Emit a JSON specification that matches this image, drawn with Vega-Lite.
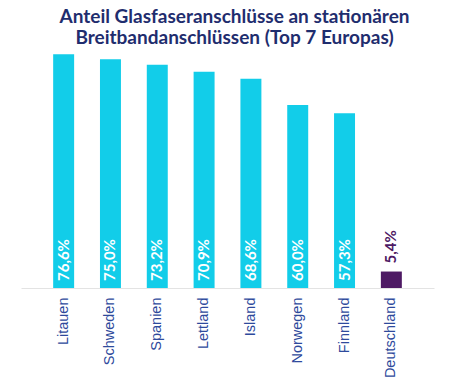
{
  "$schema": "https://vega.github.io/schema/vega-lite/v6.json",
  "width": 413,
  "height": 244,
  "autosize": {"type": "none"},
  "padding": {"left": 21, "top": 44, "right": 16, "bottom": 100},
  "background": "#ffffff",
  "title": {
    "text": ["Anteil Glasfaseranschlüsse an stationären", "Breitbandanschlüssen (Top 7 Europas)"],
    "font": "Lato",
    "fontSize": 19,
    "fontWeight": "bold",
    "color": "#1F2D6E",
    "lineHeight": 21,
    "anchor": "middle",
    "dx": 7,
    "offset": -4
  },
  "data": {
    "values": [
      {"land": "Litauen", "anteil": 76.6, "label": "76,6%", "gruppe": "top"},
      {"land": "Schweden", "anteil": 75.0, "label": "75,0%", "gruppe": "top"},
      {"land": "Spanien", "anteil": 73.2, "label": "73,2%", "gruppe": "top"},
      {"land": "Lettland", "anteil": 70.9, "label": "70,9%", "gruppe": "top"},
      {"land": "Island", "anteil": 68.6, "label": "68,6%", "gruppe": "top"},
      {"land": "Norwegen", "anteil": 60.0, "label": "60,0%", "gruppe": "top"},
      {"land": "Finnland", "anteil": 57.3, "label": "57,3%", "gruppe": "top"},
      {"land": "Deutschland", "anteil": 5.4, "label": "5,4%", "gruppe": "de"}
    ]
  },
  "encoding": {
    "x": {
      "field": "land",
      "type": "nominal",
      "sort": null,
      "scale": {"paddingInner": 0.552, "paddingOuter": 0.687},
      "axis": {
        "title": null,
        "labelAngle": -90,
        "labelAlign": "right",
        "labelBaseline": "middle",
        "labelFont": "Liberation Sans",
        "labelFontSize": 14.5,
        "labelColor": "#2E4A9C",
        "labelPadding": 9,
        "ticks": false,
        "domainColor": "#E3E3E3",
        "domainWidth": 1
      }
    },
    "y": {
      "field": "anteil",
      "type": "quantitative",
      "scale": {"domain": [0, 80], "nice": false},
      "axis": null
    }
  },
  "layer": [
    {
      "mark": {"type": "bar"},
      "encoding": {
        "color": {
          "field": "gruppe",
          "type": "nominal",
          "scale": {"domain": ["top", "de"], "range": ["#12CDE9", "#4E1A64"]},
          "legend": null
        }
      }
    },
    {
      "transform": [{"filter": "datum.gruppe == 'top'"}],
      "mark": {
        "type": "text",
        "angle": 270,
        "align": "left",
        "baseline": "middle",
        "dx": 7,
        "font": "Lato",
        "fontWeight": "bold",
        "fontSize": 15,
        "color": "#ffffff"
      },
      "encoding": {
        "y": {"datum": 0},
        "text": {"field": "label"}
      }
    },
    {
      "transform": [{"filter": "datum.gruppe == 'de'"}],
      "mark": {
        "type": "text",
        "angle": 270,
        "align": "left",
        "baseline": "middle",
        "dx": 8,
        "font": "Lato",
        "fontWeight": "bold",
        "fontSize": 15,
        "color": "#4E1A64"
      },
      "encoding": {
        "text": {"field": "label"}
      }
    }
  ],
  "config": {"view": {"stroke": null}}
}
